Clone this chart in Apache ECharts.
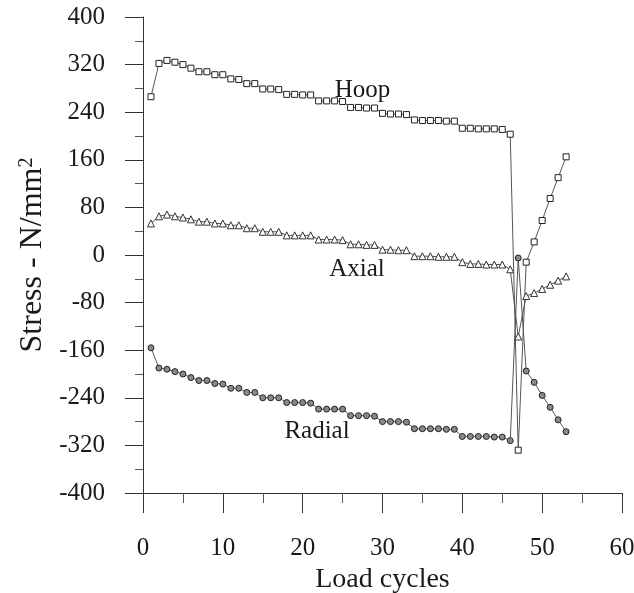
<!DOCTYPE html>
<html>
<head>
<meta charset="utf-8">
<script src="https://cdn.jsdelivr.net/npm/echarts@6/dist/echarts.min.js"></script>
<style>
  html, body { margin: 0; padding: 0; background: #fff; }
  #chart { width: 634px; height: 593px; }
</style>
</head>
<body>
<div id="chart"></div>
<script>
// load cycle numbers
const cycles = [1, 2, 3, 4, 5, 6, 7, 8, 9, 10, 11, 12, 13, 14, 15, 16, 17, 18, 19, 20,
  21, 22, 23, 24, 25, 26, 27, 28, 29, 30, 31, 32, 33, 34, 35, 36, 37, 38, 39, 40,
  41, 42, 43, 44, 45, 46, 47, 48, 49, 50, 51, 52, 53];

// stress values (N/mm^2)
const hoop = [266, 322, 327, 324, 320, 314, 308, 308, 303, 303, 296, 295, 288, 288, 279, 279, 278, 270, 270, 269,
  269, 259, 259, 259, 258, 248, 248, 247, 247, 238, 237, 237, 236, 227, 226, 226, 226, 225, 225, 213,
  213, 212, 212, 212, 211, 203, -328, -12, 22, 58, 95, 130, 165];
const axial = [53, 65, 68, 65, 63, 60, 56, 56, 53, 53, 50, 50, 45, 45, 39, 39, 39, 33, 33, 33,
  33, 26, 26, 26, 25, 18, 18, 17, 17, 9, 9, 8, 8, -2, -2, -2, -3, -3, -3, -12,
  -15, -15, -16, -16, -16, -24, -137, -69, -64, -57, -50, -43, -36];
const radial = [-156, -190, -192, -196, -200, -206, -211, -211, -216, -217, -224, -224, -231, -231, -240, -240, -240, -248, -248, -248,
  -249, -259, -259, -259, -259, -270, -270, -270, -271, -280, -280, -280, -281, -292, -292, -292, -292, -293, -293, -305,
  -305, -305, -305, -306, -306, -312, -5, -195, -214, -236, -256, -277, -297];

// where the curve names sit (data coords)
const hoopLabel = [27.5, 276];
const axialLabel = [26.8, -24];
const radialLabel = [21.8, -297];

const serif = '"Liberation Serif", "DejaVu Serif", serif';
const ink = '#1a1a1a';

const toPairs = vals => cycles.map((c, i) => [c, vals[i]]);

function curveName(text, coord) {
  return {
    silent: true,
    symbol: 'circle',
    symbolSize: 0,
    data: [{
      coord: coord,
      label: { show: true, formatter: text, color: ink, fontFamily: serif, fontSize: 25 }
    }]
  };
}

const chart = echarts.init(document.getElementById('chart'));

const option = {
  animation: false,
  backgroundColor: '#fff',
  grid: { left: 143, right: 12, top: 17, bottom: 100, outerBoundsMode: 'none', containLabel: false },
  xAxis: {
    type: 'value',
    min: 0,
    max: 60,
    interval: 10,
    name: 'Load cycles',
    nameLocation: 'middle',
    nameGap: 65,
    nameTextStyle: { fontFamily: serif, fontSize: 28, color: ink },
    axisLine: { onZero: false, lineStyle: { color: '#333', width: 1 } },
    axisTick: { length: 20, lineStyle: { color: '#333' } },
    minorTick: { show: true, splitNumber: 2, length: 10, lineStyle: { color: '#555' } },
    splitLine: { show: false },
    axisLabel: { fontFamily: serif, fontSize: 25, color: ink, margin: 43 }
  },
  yAxis: {
    type: 'value',
    min: -400,
    max: 400,
    interval: 80,
    name: '{a|Stress - N/mm}{b|2}',
    nameLocation: 'middle',
    nameGap: 92,
    nameTextStyle: {
      rich: {
        a: { fontFamily: serif, fontSize: 32, color: ink, lineHeight: 32 },
        b: { fontFamily: serif, fontSize: 20, color: ink, verticalAlign: 'top', lineHeight: 32 }
      }
    },
    axisLine: { onZero: false, lineStyle: { color: '#333', width: 1 } },
    axisTick: { length: 18, lineStyle: { color: '#333' } },
    minorTick: { show: true, splitNumber: 2, length: 8, lineStyle: { color: '#555' } },
    splitLine: { show: false },
    axisLabel: { fontFamily: serif, fontSize: 25, color: ink, margin: 38 }
  },
  series: [
    {
      name: 'Hoop',
      type: 'line',
      data: toPairs(hoop),
      symbol: 'rect',
      symbolSize: 6,
      lineStyle: { color: '#555', width: 1 },
      itemStyle: { color: '#fff', borderColor: '#222', borderWidth: 1 },
      markPoint: curveName('Hoop', hoopLabel)
    },
    {
      name: 'Axial',
      type: 'line',
      data: toPairs(axial),
      symbol: 'triangle',
      symbolSize: 7,
      lineStyle: { color: '#555', width: 1 },
      itemStyle: { color: '#fff', borderColor: '#333', borderWidth: 1 },
      markPoint: curveName('Axial', axialLabel)
    },
    {
      name: 'Radial',
      type: 'line',
      data: toPairs(radial),
      symbol: 'circle',
      symbolSize: 6,
      lineStyle: { color: '#555', width: 1 },
      itemStyle: { color: '#8a8a8a', borderColor: '#222', borderWidth: 1 },
      markPoint: curveName('Radial', radialLabel)
    }
  ]
};

chart.setOption(option);
</script>
</body>
</html>
